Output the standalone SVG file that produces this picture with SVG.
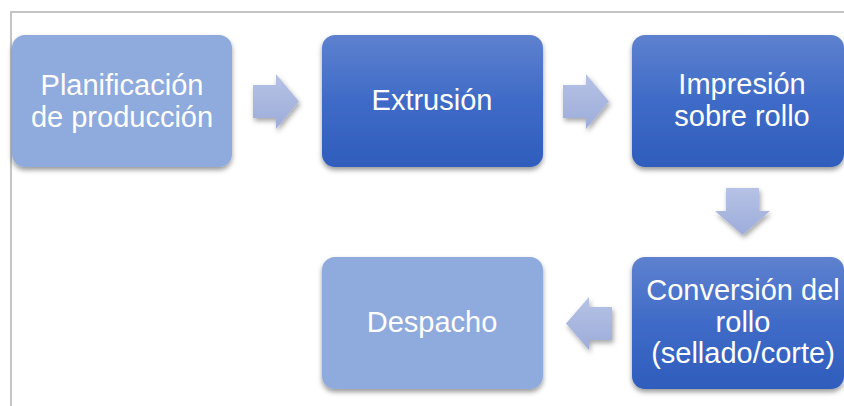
<svg xmlns="http://www.w3.org/2000/svg" width="844" height="406" viewBox="0 0 844 406">
  <defs>
    <linearGradient id="gDark" x1="0" y1="0" x2="0" y2="1">
      <stop offset="0" stop-color="#5e81cf"/>
      <stop offset="0.5" stop-color="#3f6bc7"/>
      <stop offset="1" stop-color="#2f5dbc"/>
    </linearGradient>
    <linearGradient id="gArrow" x1="0" y1="0" x2="0" y2="1">
      <stop offset="0" stop-color="#b6c2e5"/>
      <stop offset="1" stop-color="#9dadda"/>
    </linearGradient>
    <filter id="shadow" x="-10%" y="-10%" width="125%" height="130%">
      <feDropShadow dx="0" dy="3" stdDeviation="2.5" flood-color="#000" flood-opacity="0.4"/>
    </filter>
    <filter id="ashadow" x="-30%" y="-30%" width="170%" height="170%">
      <feDropShadow dx="1.5" dy="3" stdDeviation="2.5" flood-color="#000" flood-opacity="0.35"/>
    </filter>
  </defs>
  <style>
    .box { filter: url(#shadow); }
    .light { fill: #8faadc; }
    .dark { fill: url(#gDark); }
    .arrow { fill: url(#gArrow); filter: url(#ashadow); }
    .label { font-family: "Liberation Sans", Arial, sans-serif; font-size: 29px; fill: #ffffff; text-anchor: middle; }
    .frame { stroke: #c4c4c4; stroke-width: 2; fill: none; }
  </style>

  <rect width="844" height="406" fill="#ffffff"/>
  <!-- frame -->
  <path class="frame" d="M11,406 V12 H844"/>

  <!-- connectors -->
  <g id="connectors">
    <path class="arrow" d="M253,85 H276 V74 L299,101.5 L276,129 V118 H253 Z"/>
    <path class="arrow" d="M563,85 H586 V74 L609,101.5 L586,129 V118 H563 Z"/>
    <path class="arrow" d="M726,188 V211 H715 L742.5,235 L770,211 H759 V188 Z"/>
    <path class="arrow" d="M612,307 H589 V297 L566,323.5 L589,350 V340 H612 Z"/>
  </g>

  <g id="planificacion">
    <rect class="box light" x="12" y="35" width="220" height="132" rx="13"/>
    <text class="label" x="122" y="95">Planificación</text>
    <text class="label" x="122" y="127">de producción</text>
  </g>

  <g id="extrusion">
    <rect class="box dark" x="322" y="35" width="221" height="132" rx="13"/>
    <text class="label" x="432" y="110">Extrusión</text>
  </g>

  <g id="impresion">
    <rect class="box dark" x="632" y="35" width="212" height="132" rx="13"/>
    <text class="label" x="742" y="94">Impresión</text>
    <text class="label" x="742" y="126">sobre rollo</text>
  </g>

  <g id="conversion">
    <rect class="box dark" x="632" y="257" width="212" height="132" rx="13"/>
    <text class="label" x="743" y="300">Conversión del</text>
    <text class="label" x="743" y="332">rollo</text>
    <text class="label" x="743" y="363">(sellado/corte)</text>
  </g>

  <g id="despacho">
    <rect class="box light" x="322" y="257" width="221" height="132" rx="13"/>
    <text class="label" x="432" y="332">Despacho</text>
  </g>
</svg>
